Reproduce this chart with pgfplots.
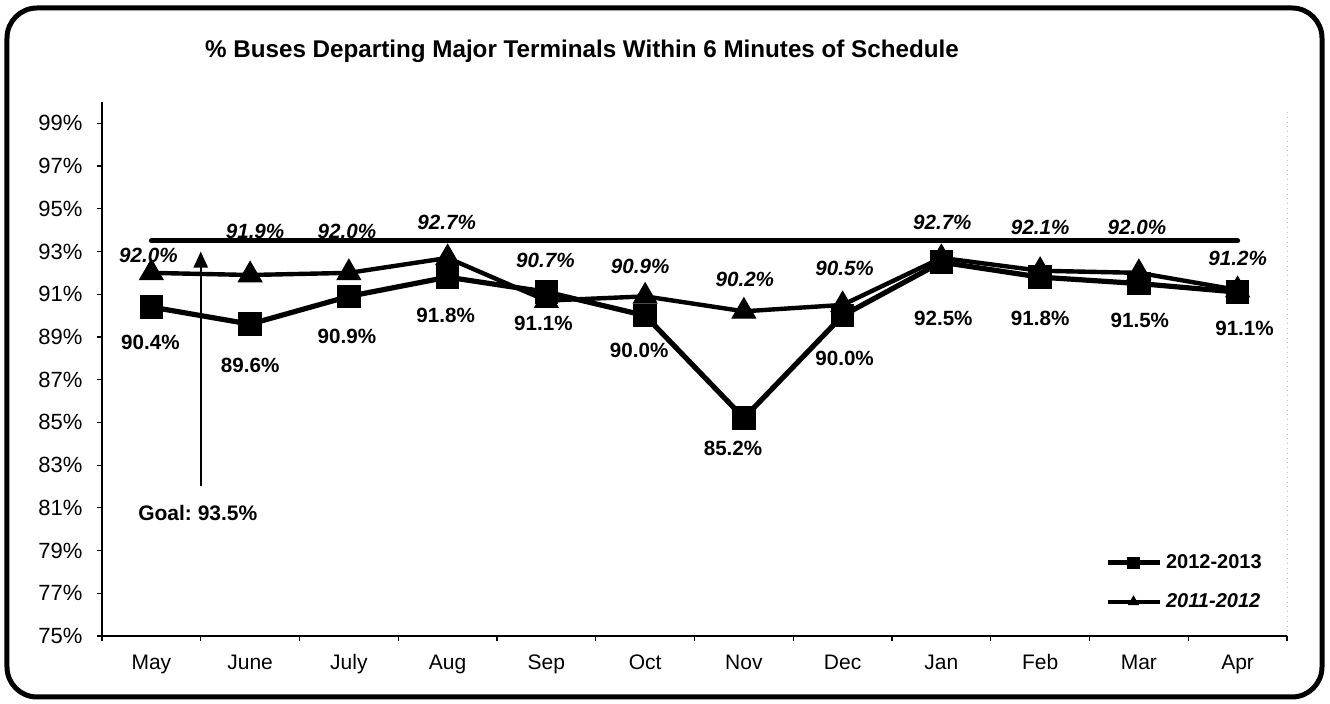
\documentclass[border=0pt]{standalone}
\usepackage{pgfplots}
\pgfplotsset{compat=1.18}
\usepackage{pgfplotstable}
\usepackage{fontspec}
\setmainfont{Liberation Sans}
\usetikzlibrary{arrows.meta}

\pgfplotstableread{
x y
0 90.4
1 89.6
2 90.9
3 91.8
4 91.1
5 90.0
6 85.2
7 90.0
8 92.5
9 91.8
10 91.5
11 91.1
}\seriesA

\pgfplotstableread{
x y
0 92.0
1 91.9
2 92.0
3 92.7
4 90.7
5 90.9
6 90.2
7 90.5
8 92.7
9 92.1
10 92.0
11 91.2
}\seriesB

% label positions (x, y of label centre) and values
\pgfplotstableread{
x ly v
-0.01 88.76 90.4
1.00 87.69 89.6
1.98 89.04 90.9
2.98 90.03 91.8
3.97 89.65 91.1
4.94 88.39 90.0
5.89 83.80 85.2
7.02 88.01 90.0
8.02 89.89 92.5
9.00 89.89 91.8
10.01 89.79 91.5
11.07 89.42 91.1
}\labelsA

\pgfplotstableread{
x ly v
-0.03 92.84 92.0
1.05 93.96 91.9
1.98 93.96 92.0
2.99 94.38 92.7
3.99 92.60 90.7
4.95 92.28 90.9
6.01 91.71 90.2
7.02 92.23 90.5
8.01 94.38 92.7
9.00 94.15 92.1
9.98 94.15 92.0
11.00 92.70 91.2
}\labelsB

\begin{document}
\begin{tikzpicture}[x=1pt,y=1pt]
\useasboundingbox (-51,-34) rectangle (614,318);
\begin{axis}[
  at={(0,0)}, anchor=south west,
  scale only axis, width=592.5pt, height=267pt,
  xmin=-0.5, xmax=11.5, ymin=75, ymax=100,
  axis x line*=bottom, axis y line*=left,
  axis line style={line width=0.8pt},
  xtick={-0.5,0.5,...,11.5},
  xticklabels={},
  extra x ticks={0,1,2,3,4,5,6,7,8,9,10,11},
  extra x tick labels={May,June,July,Aug,Sep,Oct,Nov,Dec,Jan,Feb,Mar,Apr},
  extra x tick style={major tick length=0pt, tick label style={font=\fontsize{10.5}{12}\selectfont, text height=0.72em, text depth=0.22em, yshift=-6pt}},
  ytick={75,77,...,99},
  yticklabel={\pgfmathprintnumber{\tick}\%},
  yticklabel style={font=\fontsize{11}{13}\selectfont, xshift=-3.8pt},
  /pgf/number format/assume math mode=true,
  tick align=outside, major tick length=2.5pt,
  tick style={black, line width=0.6pt},
  legend style={at={(0.846,0.161)}, anchor=north west, draw=none, fill=none,
    font=\bfseries\fontsize{10}{12}\selectfont, inner sep=0pt, row sep=7pt},
  legend cell align=left,
  legend image code/.code={%
    \draw[mark repeat=2,mark phase=2,#1,mark size=2.8pt]
      plot coordinates {(0pt,0pt) (13pt,0pt) (26pt,0pt)};},
  clip=false,
]
% goal line
\addplot[forget plot, black, line width=2.5pt, line cap=round] coordinates {(0,93.5) (11,93.5)};
% arrow
\addplot[forget plot, black, line width=1.1pt, -{Triangle[width=7pt,length=8pt]}] coordinates {(0.5,82.0) (0.5,93.0)};

\addplot[black, line width=2.6pt, mark=square*, mark size=5.6pt, mark options={line width=0.5pt}] table[x=x,y=y] {\seriesA};
\addlegendentry{2012-2013}
\addplot[black, line width=2.2pt, mark=triangle*, mark size=6.8pt, mark options={line width=0.5pt}] table[x=x,y=y] {\seriesB};
\addlegendentry{\textit{2011-2012}}

% data labels
\addplot[forget plot, only marks, mark=*, mark size=0pt, mark options={draw=none,fill=none},
  point meta=explicit, nodes near coords={\pgfmathprintnumber[fixed,fixed zerofill,precision=1,assume math mode=true]{\pgfplotspointmeta}\%},
  nodes near coords style={anchor=center, font=\bfseries\fontsize{10.3}{12}\selectfont}]
  table[x=x,y=ly,meta=v] {\labelsA};
\addplot[forget plot, only marks, mark=*, mark size=0pt, mark options={draw=none,fill=none},
  point meta=explicit, nodes near coords={\pgfmathprintnumber[fixed,fixed zerofill,precision=1,assume math mode=true]{\pgfplotspointmeta}\%},
  nodes near coords style={anchor=center, font=\bfseries\itshape\fontsize{10.3}{12}\selectfont}]
  table[x=x,y=ly,meta=v] {\labelsB};

\node[font=\bfseries\fontsize{10.5}{12}\selectfont] at (axis cs:0.47,80.76) {Goal:~93.5\%};
\end{axis}
\draw[gray!50, dotted, line width=0.4pt] (592.5,0) -- (592.5,262);
\node[font=\bfseries\fontsize{12.1}{14}\selectfont] at (240,292.5) {\% Buses Departing Major Terminals Within 6 Minutes of Schedule};
\draw[black, line width=2.5pt, rounded corners=15pt] (-47.5,-30.5) rectangle (610,314);
\end{tikzpicture}
\end{document}
